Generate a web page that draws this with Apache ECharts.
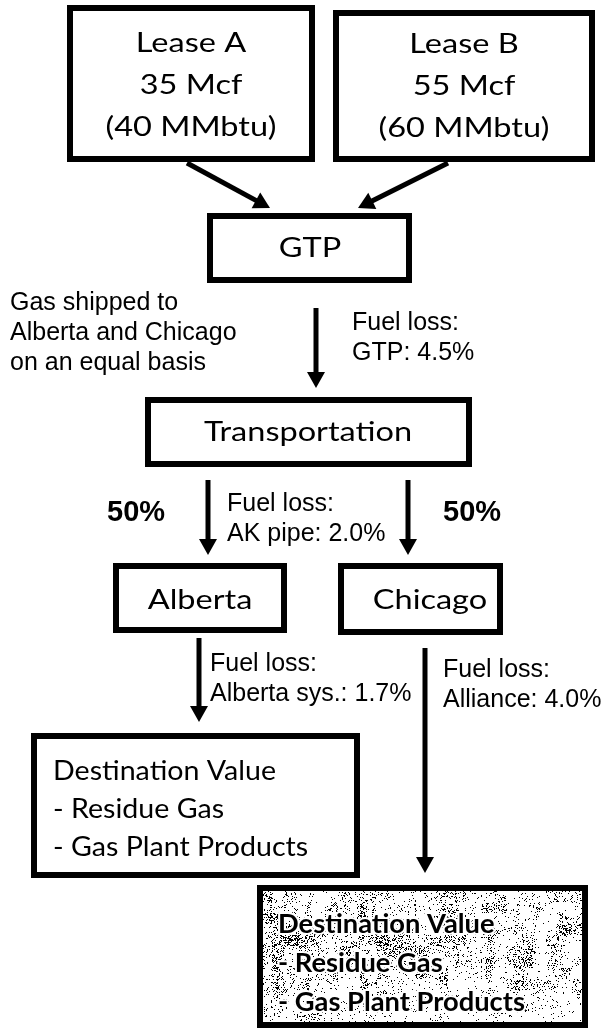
<!DOCTYPE html>
<html>
<head>
<meta charset="utf-8">
<script src="https://cdn.jsdelivr.net/npm/echarts@6.0.0/dist/echarts.min.js"></script>
<style>
  html, body { margin: 0; padding: 0; background: #fff; }
  #chart { width: 607px; height: 1035px; }
</style>
</head>
<body>
<div id="chart"></div>
<script>
// --- flowchart contents ---
const boxText = [
  ['Lease A', '35 Mcf', '(40 MMbtu)'],
  ['Lease B', '55 Mcf', '(60 MMbtu)'],
  ['GTP'],
  ['Transportation'],
  ['Alberta'],
  ['Chicago'],
  ['Destination Value', '- Residue Gas', '- Gas Plant Products'],
  ['Destination Value', '- Residue Gas', '- Gas Plant Products']
];
const noteText = [
  ['Gas shipped to', 'Alberta and Chicago', 'on an equal basis'],
  ['Fuel loss:', 'GTP: 4.5%'],
  ['50%'],
  ['Fuel loss:', 'AK pipe: 2.0%'],
  ['50%'],
  ['Fuel loss:', 'Alberta sys.: 1.7%'],
  ['Fuel loss:', 'Alliance: 4.0%']
];
// from-box -> to-box
const links = [[0, 2], [1, 2], [2, 3], [3, 4], [3, 5], [4, 6], [5, 7]];

// --- layout, in diagram units (x 0..607, y 0..1035 downwards) ---
// x0, y0, x1, y1 of each box
const boxRect = [
  [67, 5, 315, 162],
  [333, 10, 595, 162],
  [207, 213, 412, 283],
  [145, 397, 472, 467],
  [113, 563, 287, 633],
  [338, 563, 503, 635],
  [31, 733, 360, 878],
  [257, 885, 588, 1028]
];
// text anchor x, y (middle of text block)
const boxAnchor = [
  [191, 86], [464, 87], [310, 249], [308, 433], [200, 601], [430, 601], [53, 810], [278, 964]
];
// arrow start and tip
const arrowPath = [
  [187, 163, 270, 208],
  [448, 163, 358, 208],
  [316, 308, 316, 388],
  [208, 480, 208, 555],
  [408, 480, 408, 555],
  [199, 638, 199, 722],
  [425, 648, 425, 873]
];
// left x, middle y of each note
const notePos = [
  [10, 333], [352, 338], [107, 513], [227, 519], [443, 513], [210, 679], [443, 685]
];

const chart = echarts.init(document.getElementById('chart'));

// grainy photocopy texture for the last box
function speckle(x0, y0, x1, y1) {
  const c = document.createElement('canvas');
  c.width = 607; c.height = 1035;
  const g = c.getContext('2d');
  g.fillStyle = '#fff';
  g.fillRect(0, 0, c.width, c.height);
  g.fillStyle = '#000';
  const hash = (a, b) => {
    let h = Math.imul(a, 374761393) + Math.imul(b, 668265263);
    h = Math.imul(h ^ (h >>> 13), 1274126177);
    return ((h ^ (h >>> 16)) >>> 0) % 1000 / 1000;
  };
  for (let y = y0; y < y1; y += 1) {
    const ty = (y - y0) / (y1 - y0);
    const band = 0.3 + 0.7 * Math.sin(Math.PI * Math.min(1, ty * 1.25));
    for (let x = x0; x < x1; x += 1) {
      const streak = hash(Math.floor(x / 9), 7) * hash(Math.floor(x / 4), Math.floor(y / 23));
      const blob = hash(Math.floor(x / 13), Math.floor(y / 11));
      const p = 0.01 + 0.45 * streak * streak * band + 0.35 * blob * blob * blob * band;
      if (hash(x, y) < p) g.fillRect(x, y, 1, 1);
    }
  }
  return c;
}
const lastBox = boxRect[boxRect.length - 1];
const speckleImg = speckle(lastBox[0], lastBox[1], lastBox[2], lastBox[3]);

const boxFont = '26px Lato, "Open Sans", sans-serif';

function renderBox(params, api) {
  const i = params.dataIndex;
  const p0 = api.coord([api.value(0), api.value(1)]);
  const p1 = api.coord([api.value(2), api.value(3)]);
  const t = api.coord(boxAnchor[i]);
  const bw = 6;
  const grainy = i === boxText.length - 1;
  const left = i >= 6;
  const textStyle = {
    text: boxText[i].join('\n'),
    font: grainy ? 'bold ' + boxFont : boxFont,
    fill: '#000',
    align: left ? 'left' : 'center',
    verticalAlign: 'middle',
    lineHeight: i < 2 ? 42 : (grainy ? 39 : 38)
  };
  if (grainy) {
    textStyle.stroke = '#fff';
    textStyle.lineWidth = 4;
    textStyle.strokeFirst = true;
  }
  return {
    type: 'group',
    children: [{
      type: 'rect',
      shape: {x: p0[0] + bw / 2, y: p0[1] + bw / 2, width: p1[0] - p0[0] - bw, height: p1[1] - p0[1] - bw},
      style: {fill: grainy ? {image: speckleImg, repeat: 'no-repeat'} : '#fff', stroke: '#000', lineWidth: bw}
    }, {
      type: 'text',
      x: t[0], y: t[1],
      scaleX: grainy ? 1.05 : (left ? 1.1 : 1.25),
      style: textStyle
    }]
  };
}

function renderArrow(params, api) {
  const a = api.coord([api.value(0), api.value(1)]);
  const b = api.coord([api.value(2), api.value(3)]);
  const dx = b[0] - a[0], dy = b[1] - a[1];
  const len = Math.sqrt(dx * dx + dy * dy);
  const ux = dx / len, uy = dy / len;
  const head = 16, half = 9;
  const bx = b[0] - ux * head, by = b[1] - uy * head;
  return {
    type: 'group',
    children: [{
      type: 'line',
      shape: {x1: a[0], y1: a[1], x2: bx + ux * 2, y2: by + uy * 2},
      style: {stroke: '#000', lineWidth: 5}
    }, {
      type: 'polygon',
      shape: {points: [[b[0], b[1]], [bx - uy * half, by + ux * half], [bx + uy * half, by - ux * half]]},
      style: {fill: '#000'}
    }]
  };
}

function renderNote(params, api) {
  const i = params.dataIndex;
  const p = api.coord([api.value(0), api.value(1)]);
  const bold = noteText[i][0] === '50%';
  return {
    type: 'text',
    x: p[0], y: p[1],
    style: {
      text: noteText[i].join('\n'),
      font: (bold ? 'bold 29px ' : '25px ') + '"Liberation Sans", Arial, sans-serif',
      fill: '#000',
      align: 'left',
      verticalAlign: 'middle',
      lineHeight: 30
    }
  };
}

chart.setOption({
  animation: false,
  grid: {left: 0, right: 0, top: 0, bottom: 0},
  xAxis: {type: 'value', min: 0, max: 607, show: false},
  yAxis: {type: 'value', min: 0, max: 1035, inverse: true, show: false},
  series: [{
    type: 'custom', silent: true,
    renderItem: renderArrow,
    encode: {x: [0, 2], y: [1, 3]},
    data: links.map((l, i) => arrowPath[i])
  }, {
    type: 'custom', silent: true,
    renderItem: renderBox,
    encode: {x: [0, 2], y: [1, 3]},
    data: boxRect
  }, {
    type: 'custom', silent: true,
    renderItem: renderNote,
    encode: {x: 0, y: 1},
    data: notePos
  }]
});
</script>
</body>
</html>
